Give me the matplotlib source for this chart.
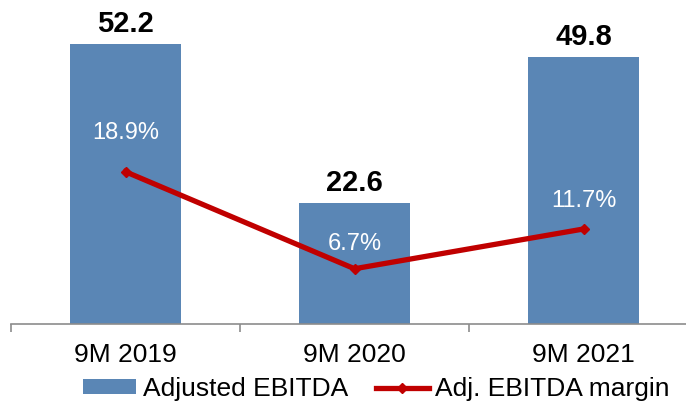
import matplotlib.pyplot as plt
import numpy as np

plt.rcParams["font.family"] = ["Liberation Sans", "DejaVu Sans"]

periods = ["9M 2019", "9M 2020", "9M 2021"]
adj_ebitda = [52.2, 22.6, 49.8]
ebitda_margin = [18.9, 6.7, 11.7]

BAR_COLOR = "#5A86B5"
LINE_COLOR = "#C00000"

fig = plt.figure(figsize=(6.86, 4.01), dpi=100)
# plot area runs a little past the right edge of the canvas
ax = fig.add_axes([11 / 686, 1 - 324 / 401, 687 / 686, 324 / 401])
x = np.arange(len(periods))

ax.bar(x, adj_ebitda, width=0.485, color=BAR_COLOR, label="Adjusted EBITDA", zorder=1)
ax.set_xlim(-0.5, len(periods) - 0.5)
ax.set_ylim(0, 60.5)
ax.set_yticks([])
for side in ("left", "right", "top"):
    ax.spines[side].set_visible(False)
ax.spines["bottom"].set_color("#8c8c8c")
ax.spines["bottom"].set_linewidth(1.2)

ax.set_xticks(x)
ax.set_xticklabels(periods, fontsize=19)
ax.tick_params(axis="x", which="major", length=0, pad=14)
ax.set_xticks(np.arange(len(periods) + 1) - 0.5, minor=True)
ax.tick_params(axis="x", which="minor", length=6, width=1.2, color="#8c8c8c")

for xi, v in zip(x, adj_ebitda):
    ax.annotate(f"{v:.1f}", (xi, v), xytext=(0, 14.5), textcoords="offset points",
                ha="center", va="center", fontsize=21, fontweight="bold")

ax2 = ax.twinx()
ax2.set_ylim(-0.25, 40.5)
ax2.set_yticks([])
for side in ("left", "right", "top", "bottom"):
    ax2.spines[side].set_visible(False)
ax2.plot(x, ebitda_margin, color=LINE_COLOR, lw=3.8, marker="D", ms=5.5,
         label="Adj. EBITDA margin", zorder=3)

label_offsets = [28, 17.5, 20.5]
for xi, v, off in zip(x, ebitda_margin, label_offsets):
    ax2.annotate(f"{v:.1f}%", (xi, v), xytext=(0, off), textcoords="offset points",
                 ha="center", va="center", fontsize=17, color="white")

h1, l1 = ax.get_legend_handles_labels()
h2, l2 = ax2.get_legend_handles_labels()
fig.legend(h1 + h2, l1 + l2, loc="center", bbox_to_anchor=(376.5 / 686, 0.03),
           ncol=2, frameon=False, fontsize=19, handlelength=2.0, handleheight=0.5,
           handletextpad=0.25, columnspacing=1.05, borderpad=0, borderaxespad=0)

fig.savefig("out.png", dpi=100)
